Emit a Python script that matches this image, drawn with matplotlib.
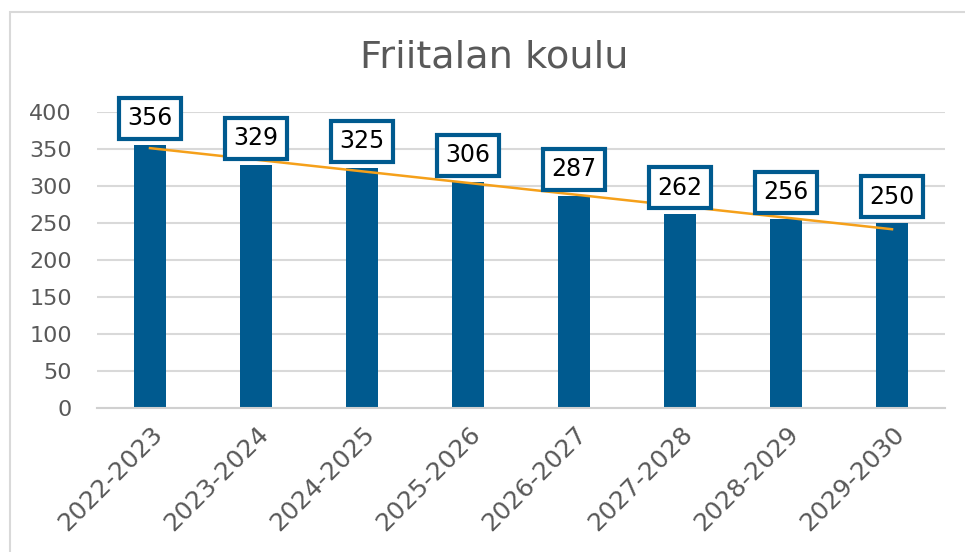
import numpy as np
import matplotlib
matplotlib.use('Agg')
import matplotlib.pyplot as plt
from matplotlib.patches import Rectangle

# Chart data
years = ['2022-2023', '2023-2024', '2024-2025', '2025-2026',
         '2026-2027', '2027-2028', '2028-2029', '2029-2030']
pupils = [356, 329, 325, 306, 287, 262, 256, 250]

bar_color = '#005a8f'
text_gray = '#595959'

fig = plt.figure(figsize=(9.65, 5.52), dpi=100)
ax = fig.add_axes([97 / 965, 1 - 408 / 552, 848 / 965, 296 / 552])

x = np.arange(len(years))
ax.bar(x, pupils, width=0.31, color=bar_color, zorder=2)

# Linear trendline
slope, intercept = np.polyfit(x, pupils, 1)
ax.plot(x, slope * x + intercept, color='#f5a01a', linewidth=1.8, zorder=3)

# Boxed value labels
for xi, v in zip(x, pupils):
    ax.annotate(str(v), (xi, v), xytext=(0, 19), textcoords='offset points',
                ha='center', va='center', fontsize=17, color='black',
                annotation_clip=False, zorder=4,
                bbox=dict(boxstyle='square,pad=0.36', facecolor='white',
                          edgecolor=bar_color, linewidth=3))

ax.set_xlim(-0.5, len(years) - 0.5)
ax.set_ylim(0, 400)
ax.set_yticks(range(0, 401, 50))
ax.set_xticks(x)
ax.set_xticklabels(years, rotation=45, ha='right', rotation_mode='anchor')
ax.tick_params(axis='both', length=0, labelcolor=text_gray)
ax.tick_params(axis='x', pad=10, labelsize=18)
ax.tick_params(axis='y', pad=18, labelsize=16)

ax.grid(axis='y', color='#d9d9d9', linewidth=1.5, zorder=0)
ax.set_axisbelow(True)
for side in ['top', 'right', 'left']:
    ax.spines[side].set_visible(False)
ax.spines['bottom'].set_color('#d0d0d0')
ax.spines['bottom'].set_linewidth(1.5)

fig.text(494 / 965, 1 - 57 / 552, 'Friitalan koulu', ha='center',
         va='center', fontsize=27.5, color=text_gray)

# Chart area border
fig.patches.append(Rectangle((10 / 965, -0.1), 1.2, 1.1 - 12 / 552,
                             transform=fig.transFigure, fill=False,
                             edgecolor='#d9d9d9', linewidth=1.5))

fig.savefig('out.png', dpi=100)
